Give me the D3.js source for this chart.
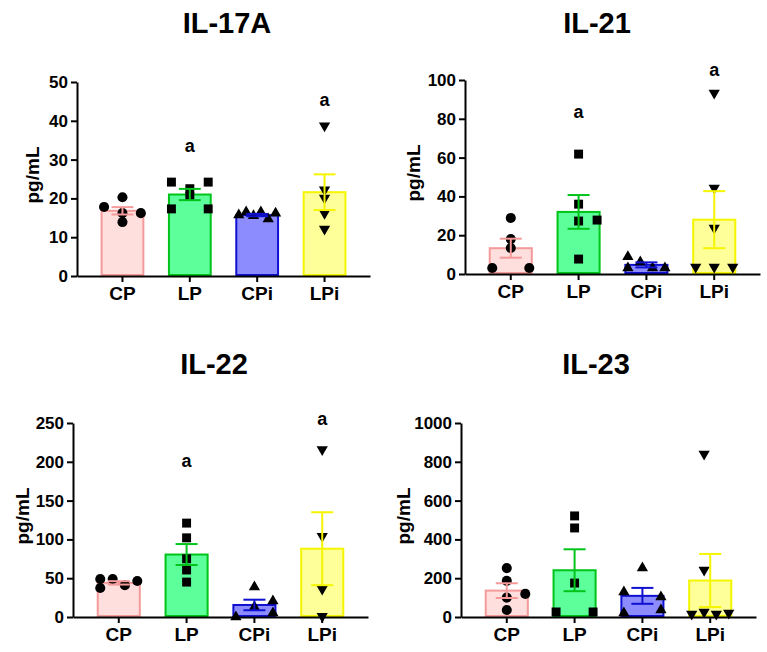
<!DOCTYPE html>
<html>
<head>
<meta charset="utf-8">
<script src="https://cdn.jsdelivr.net/npm/d3@7"></script>
<style>
  body { margin: 0; background: #fff; }
  text { font-family: Arial, "Liberation Sans", sans-serif; font-weight: bold; }
</style>
</head>
<body>
<div id="chart"></div>
<script>
// groups + panel settings
var groups = ["CP", "LP", "CPi", "LPi"];
var titles = ["IL-17A", "IL-21", "IL-22", "IL-23"];
var yMax = [50, 100, 250, 1000];
var yTicks = [
  [0, 10, 20, 30, 40, 50],
  [0, 20, 40, 60, 80, 100],
  [0, 50, 100, 150, 200, 250],
  [0, 200, 400, 600, 800, 1000]
];

// bar means and SEM
var means = [
  [16.8, 21.0, 15.7, 21.6],
  [13.3, 32.0, 4.7, 28.0],
  [44.0, 80.5, 15.5, 88.0],
  [136, 241, 109, 188]
];
var sems = [
  [0.95, 1.45, 0.3, 4.6],
  [4.9, 8.7, 1.3, 14.7],
  [2.2, 13.5, 6.8, 47],
  [38, 108, 41, 137]
];

// individual points per group
var il17Points = [[20.3, 17.8, 16.2, 16.2, 13.9], [24.2, 24.2, 22.5, 20.5, 17.3, 17.3], [15.7, 16.5, 15.5, 16.5, 14.7, 16.2], [38.7, 22.2, 20.1, 16.2, 12.1]];
var il21Points = [[28.9, 18, 13.4, 3.1, 3.1], [61.8, 36, 27.3, 27.8, 7.7], [8.9, 3.1, 6.2, 3.1, 3.1], [93.3, 44.3, 23.7, 3.6, 3.6, 3.6]];
var il22Points = [[49, 37.4, 49, 41, 46.4], [121, 102, 75, 60.6, 45], [38.7, 13, 0, 20.6, 5.2], [216, 104, 36, 1]];
var il23Points = [[252, 186, 100, 119, 36], [521, 459, 175, 26, 26], [253, 129, 21, 103, 36], [840, 242, 15, 26, 15, 21]];

// scatter column of each point (-1 left .. 1 right)
var il17Cols = [[0, -1, 1, 0, 0], [-1, 1, 0, 0, -1, 1], [-1, -0.6, -0.2, 0.2, 0.6, 1], [0, 0, 0, 0, 0]];
var il21Cols = [[0, 0, 0, -1, 1], [0, 0, 0, 1, 0], [-1, -1, -0.33, 0.33, 1], [0, 0, 0, -1, 0, 1]];
var il22Cols = [[-1, -1, -0.33, 0.33, 1], [0, 0, 0, 0, 0], [0, 0, -1, 1, 1], [0, 0, 0, 0]];
var il23Cols = [[0, 0, 0, 1, 0], [0, 0, 0, -1, 1], [0, -1, -1, 1, 1], [-0.33, -0.33, -1, -0.33, 0.33, 1]];

// significance letters
var sigLetter = [["", "a", "", "a"], ["", "a", "", "a"], ["", "a", "", "a"], ["", "", "", ""]];
var sigValue = [[0, 32, 0, 43.8], [0, 80.4, 0, 102], [0, 193, 0, 247], [0, 0, 0, 0]];

var allPoints = [il17Points, il21Points, il22Points, il23Points];
var allCols = [il17Cols, il21Cols, il22Cols, il23Cols];

var fills = ["#ffdede", "#5cff9a", "#8c8cff", "#ffff99"];
var strokes = ["#f59a9a", "#00c41a", "#1010d0", "#f5f500"];
var shapes = [d3.symbolCircle, d3.symbolSquare, d3.symbolTriangle, d3.symbolTriangle];
var shapeSize = [80, 80, 55, 55];

var layout = [
  { x0: 77,  x1: 370, top: 82,  bot: 276, tx: 227, ty: 33,  lx: 32 },
  { x0: 465, x1: 760, top: 80,  bot: 274, tx: 597, ty: 33,  lx: 413 },
  { x0: 73,  x1: 368, top: 423, bot: 617, tx: 214, ty: 374, lx: 22 },
  { x0: 461, x1: 756, top: 423, bot: 617, tx: 596, ty: 374, lx: 403 }
];

var svg = d3.select("#chart").append("svg")
    .attr("width", 767)
    .attr("height", 652);

layout.forEach(function(L, i) {
  var g = svg.append("g");

  var y = d3.scaleLinear().domain([0, yMax[i]]).range([L.bot, L.top]);
  var x = d3.scaleBand().domain(groups).range([L.x0, L.x1])
      .paddingInner(0.35).paddingOuter(0.35);
  var bw = x.bandwidth();
  var spread = d3.scaleLinear().domain([-1, 1]).range([-0.42 * bw, 0.42 * bw]);

  g.append("text")
    .attr("x", L.tx).attr("y", L.ty)
    .attr("text-anchor", "middle")
    .style("font-size", "29px")
    .text(titles[i]);

  g.append("text")
    .attr("transform", "translate(" + L.lx + "," + ((L.top + L.bot) / 2 - 4) + ") rotate(-90)")
    .attr("text-anchor", "middle")
    .attr("dominant-baseline", "central")
    .style("font-size", "19px")
    .text("pg/mL");

  // bars
  g.selectAll(".bar").data(groups).enter().append("rect")
    .attr("x", function(d) { return x(d) + 1; })
    .attr("width", bw - 2)
    .attr("y", function(d, j) { return y(means[i][j]); })
    .attr("height", function(d, j) { return y(0) - y(means[i][j]) - 1; })
    .attr("fill", function(d, j) { return fills[j]; })
    .attr("stroke", function(d, j) { return strokes[j]; })
    .attr("stroke-width", 2);

  // points
  groups.forEach(function(grp, j) {
    var cx = x(grp) + bw / 2;
    var sym = d3.symbol().type(shapes[j]).size(shapeSize[j]);
    g.selectAll(".pt" + j).data(allPoints[i][j]).enter().append("path")
      .attr("d", sym)
      .attr("fill", "#000")
      .attr("transform", function(v, k) {
        var t = "translate(" + (cx + spread(allCols[i][j][k])) + "," + y(v) + ")";
        return j === 3 ? t + " rotate(180)" : t;
      });
  });

  // error bars
  groups.forEach(function(grp, j) {
    var cx = x(grp) + bw / 2;
    var hi = y(means[i][j] + sems[i][j]);
    var lo = y(Math.max(0, means[i][j] - sems[i][j]));
    var eb = g.append("g")
      .attr("stroke", strokes[j])
      .attr("stroke-width", 2);
    eb.append("line").attr("x1", cx).attr("x2", cx).attr("y1", hi).attr("y2", lo);
    eb.append("line").attr("x1", cx - bw / 4).attr("x2", cx + bw / 4).attr("y1", hi).attr("y2", hi);
    eb.append("line").attr("x1", cx - bw / 4).attr("x2", cx + bw / 4).attr("y1", lo).attr("y2", lo);
  });

  // letters
  groups.forEach(function(grp, j) {
    if (!sigLetter[i][j]) return;
    g.append("text")
      .attr("x", x(grp) + bw / 2)
      .attr("y", y(sigValue[i][j]))
      .attr("text-anchor", "middle")
      .style("font-size", "18px")
      .text(sigLetter[i][j]);
  });

  var yAxis = g.append("g")
    .attr("transform", "translate(" + L.x0 + ",0)")
    .call(d3.axisLeft(y).tickValues(yTicks[i]).tickFormat(d3.format("d"))
      .tickSize(6).tickSizeOuter(0).tickPadding(3));
  yAxis.selectAll("path, line").attr("stroke", "#000").attr("stroke-width", 2);
  yAxis.selectAll("text").style("font-size", "17px").attr("fill", "#000");

  var xAxis = g.append("g")
    .attr("transform", "translate(0," + L.bot + ")")
    .call(d3.axisBottom(x).tickSize(6).tickSizeOuter(0).tickPadding(5));
  xAxis.selectAll("path, line").attr("stroke", "#000").attr("stroke-width", 2);
  xAxis.selectAll("text").style("font-size", "19px").attr("fill", "#000");
});
</script>
</body>
</html>
